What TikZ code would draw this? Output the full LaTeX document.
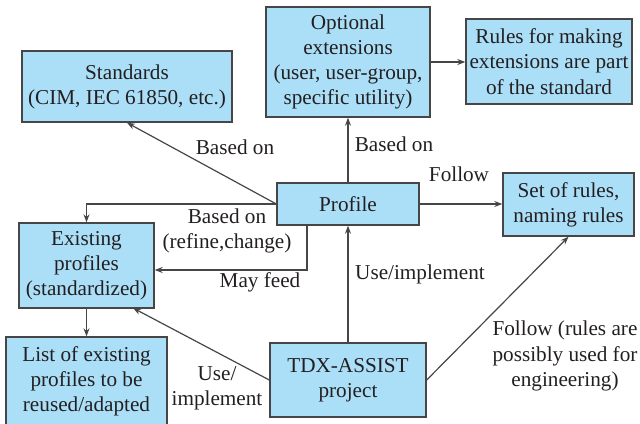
\documentclass[tikz,border=0pt]{standalone}
\usepackage{fontspec}
\setmainfont{Liberation Serif}
\newfontfamily\lserif{Liberation Serif}
\usetikzlibrary{arrows.meta}
\definecolor{boxfill}{RGB}{171,223,248}
\definecolor{txt}{RGB}{35,31,32}
\definecolor{edge}{RGB}{70,70,70}
\begin{document}
\begin{tikzpicture}[x=0.5pt,y=-0.5pt,
  font=\lserif\fontsize{10.6}{12.6}\selectfont,
  every node/.style={text=txt},
  blk/.style 2 args={draw=edge,line width=0.7pt,fill=boxfill,align=center,inner sep=0pt,
    minimum width=#1*0.5pt,minimum height=#2*0.5pt},
  conn/.style={draw=edge,line width=0.6pt,-{Stealth[length=4pt,width=3pt]}},
  lbl/.style={align=center,inner sep=0pt}]
\useasboundingbox (0,0) rectangle (640,423);
\node[blk={210}{71}] (std) at (127,86.5) {Standards\\(CIM, IEC 61850, etc.)};
\node[blk={164}{110}] (opt) at (348,62) {Optional\\extensions\\(user, user-group,\\specific utility)};
\node[blk={166}{85}] (rules) at (549,61.5) {Rules for making\\extensions are part\\of the standard};
\node[blk={142}{42}] (prof) at (348,204) {Profile};
\node[blk={131}{63}] (set) at (568.5,204.5) {Set of rules,\\naming rules};
\node[blk={135}{85}] (exist) at (86.5,265.5) {Existing\\profiles\\(standardized)};
\node[blk={161}{88}] (list) at (86.5,381) {List of existing\\profiles to be\\reused/adapted};
\node[blk={156}{74}] (tdx) at (348,380) {TDX-ASSIST\\project};
\coordinate (mf) at (307,270);
\coordinate (e2) at (133,308);
\draw[conn] (prof.west) -- (std.south);
\draw[conn] (prof.north) -- (opt.south);
\draw[conn] (opt.east) -- (opt.east -| rules.west);
\draw[conn] (prof.east) -- (prof.east -| set.west);
\draw[conn] (prof.west) -| (exist.north);
\draw[conn] (prof.south -| mf) -- (mf) -- (mf -| exist.east);
\draw[conn] (tdx.north) -- (prof.south);
\draw[conn] (tdx.west) -- (e2);
\draw[conn] (tdx.east) -- (set.south);
\draw[conn] (exist.south) -- (list.north);
\node[lbl] (l1) at (235,147) {Based on};
\node[lbl] (l2) at (394,144) {Based on};
\node[lbl] (l3) at (459,174) {Follow};
\node[lbl] (l4) at (227,231) {Based on\\(refine,change)};
\node[lbl] (l5) at (260,282) {May feed};
\node[lbl] (l6) at (420,274) {Use/implement};
\node[lbl] (l7) at (217,388) {Use/\\implement};
\node[lbl] (l8) at (565,356) {Follow (rules are\\possibly used for\\engineering)};
\end{tikzpicture}
\end{document}
